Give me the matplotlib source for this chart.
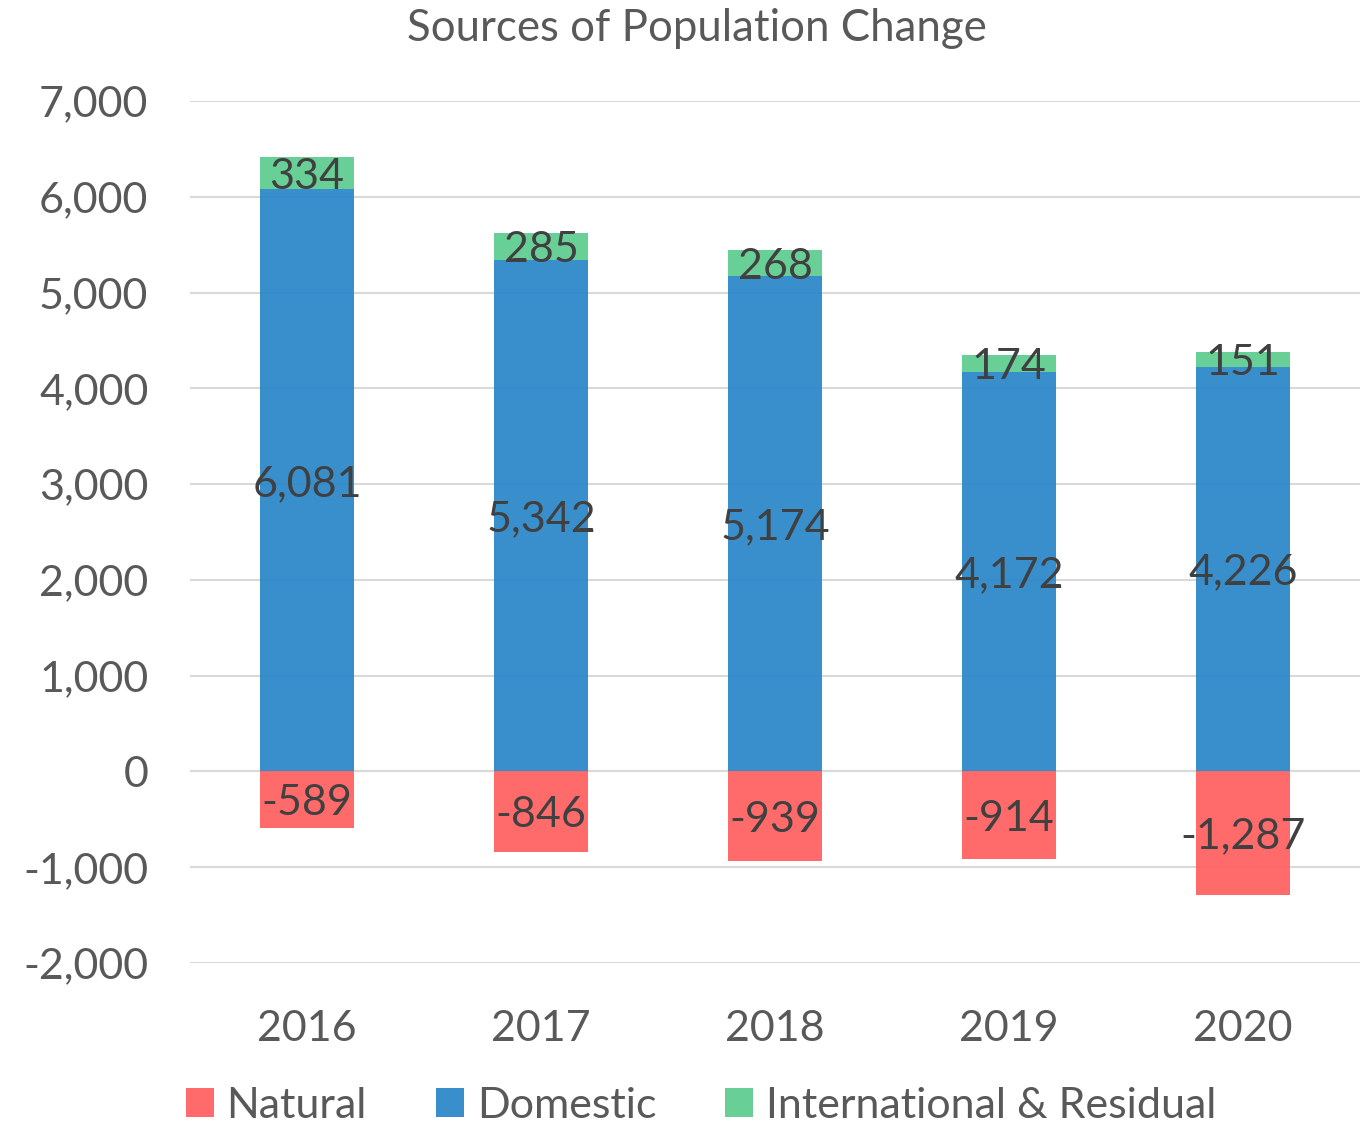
import matplotlib
matplotlib.use("Agg")
import matplotlib.pyplot as plt

plt.rcParams['font.family'] = ['Lato', 'DejaVu Sans']

years = ['2016', '2017', '2018', '2019', '2020']
natural = [-589, -846, -939, -914, -1287]
domestic = [6081, 5342, 5174, 4172, 4226]
intl = [334, 285, 268, 174, 151]

c_nat = '#FF6060'
c_dom = '#2A86C9'
c_int = '#5CCC8E'
txt = '#595959'
lab = '#404040'

fig = plt.figure(figsize=(13.69, 11.25), dpi=100)
ax = fig.add_axes([0.1388, 0.144, 0.8546, 0.7662])

x = range(len(years))
w = 0.4
a = 0.93
ax.bar(x, natural, w, color=c_nat, label='Natural', zorder=2, alpha=a)
ax.bar(x, domestic, w, color=c_dom, label='Domestic', zorder=2, alpha=a)
ax.bar(x, intl, w, bottom=domestic, color=c_int, label='International & Residual', zorder=2, alpha=a)

fs = 31
for i in x:
    ax.text(i, natural[i] / 2, f"{natural[i]:,}", ha='center', va='center_baseline', fontsize=fs, color=lab, zorder=3)
    ax.text(i, domestic[i] / 2, f"{domestic[i]:,}", ha='center', va='center_baseline', fontsize=fs, color=lab, zorder=3)
    ax.text(i, domestic[i] + intl[i] / 2, f"{intl[i]:,}", ha='center', va='center_baseline', fontsize=fs, color=lab, zorder=3)

ax.set_ylim(-2000, 7000)
ax.set_xlim(-0.5, 4.5)
ax.set_yticks(range(-2000, 7001, 1000))
ax.set_yticklabels([f"{v:,}" for v in range(-2000, 7001, 1000)])
ax.set_xticks(list(x))
ax.set_xticklabels(years)
ax.set_axisbelow(True)
ax.yaxis.grid(True, color='#D9D9D9', linewidth=1.5, zorder=0)
for s in ax.spines.values():
    s.set_visible(False)
ax.tick_params(axis='both', length=0, labelsize=31, colors=txt)
ax.tick_params(axis='y', pad=30)
ax.tick_params(axis='x', pad=34)

fig.text(0.509, 0.975, 'Sources of Population Change', ha='center', va='center', fontsize=31.5, color=txt)

leg = fig.legend(loc='center', bbox_to_anchor=(0.512, 0.017), ncol=3, frameon=False,
                 fontsize=31, handlelength=0.65, handleheight=0.65, handletextpad=0.3,
                 columnspacing=1.6, labelcolor=txt)

fig.savefig('out.png', dpi=100)
